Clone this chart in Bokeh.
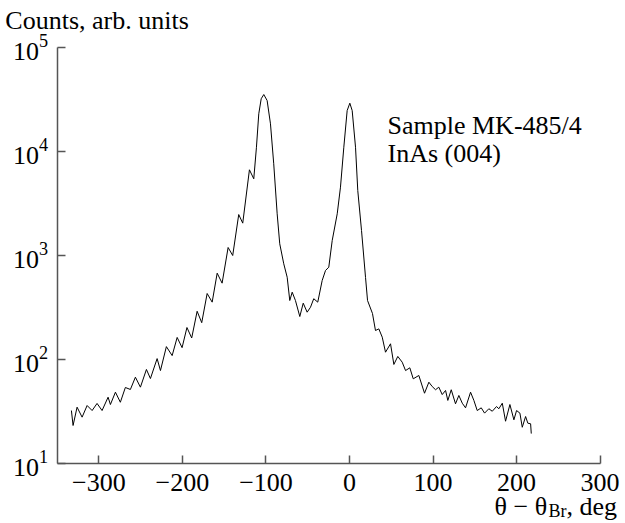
from bokeh.plotting import figure
from bokeh.models import Range1d, FixedTicker, LogTickFormatter, Label
from bokeh.embed import file_html
from bokeh.resources import INLINE

# Scan angle (theta - theta_Br, deg) and intensity (counts, arb. units)
angle = [
    -332.9, -330.9, -326.1, -320.1, -314.1, -308.1, -302.2, -296.2, -289.0, -286.2,
    -280.2, -274.3, -268.3, -262.3, -256.3, -250.3, -243.1, -238.3, -230.3, -226.3,
    -219.2, -212.3, -206.3, -200.4, -194.6, -188.9, -182.4, -176.9, -170.4, -164.4,
    -158.4, -152.5, -145.3, -139.8, -132.6, -127.8, -119.8, -114.6, -111.4, -108.6,
    -105.7, -102.6, -98.6, -94.6, -90.7, -86.6, -83.5, -78.7, -74.6, -71.5,
    -68.6, -64.7, -59.5, -55.4, -50.7, -46.7, -42.8, -38.0, -32.7, -28.7,
    -24.8, -20.7, -14.7, -10.8, -6.8, -2.8, 0.4, 3.2, 7.2, 9.9,
    14.4, 19.2, 21.6, 27.5, 31.1, 35.1, 39.2, 43.1, 49.1, 53.1,
    57.8, 63.1, 67.1, 72.2, 76.3, 83.0, 89.8, 95.0, 99.0, 103.0,
    106.9, 111.0, 115.0, 117.7, 121.8, 126.9, 130.9, 135.0, 138.9, 144.9,
    148.9, 152.9, 157.7, 161.7, 166.8, 170.9, 176.0, 178.8, 182.9, 186.8,
    192.0, 196.8, 200.0, 204.0, 206.8, 210.8, 213.5, 216.8, 217.6,
]
counts = [
    32.3, 23.2, 34.8, 27.9, 36.1, 32.3, 37.8, 32.3, 43.4, 36.9,
    48.5, 38.8, 53.8, 51.5, 67.6, 54.2, 80.2, 65.6, 102, 78.3,
    133, 109, 163, 130, 203, 161, 291, 226, 431, 356,
    676, 542, 1194, 1000, 2477, 2047, 6670, 5465, 10990, 23040,
    32140, 35300, 30900, 18450, 7620, 2518, 1296, 832, 618, 369,
    444, 369, 259, 348, 285, 318, 384, 356, 575, 718,
    772, 1393, 2518, 4540, 10990, 24770, 29140, 24770, 10990, 4217,
    1738, 614, 369, 277, 190, 197, 164, 117.5, 141.6, 89.6,
    107, 94.2, 78.3, 83.2, 65.2, 70.2, 47.4, 60.5, 55.0, 51.2,
    54.2, 46.0, 50.4, 40.4, 51.2, 37.5, 45.1, 38.0, 34.3, 48.5,
    40.4, 32.3, 34.3, 30.5, 33.6, 31.8, 35.3, 33.6, 38.0, 25.5,
    36.9, 26.3, 32.3, 30.5, 22.3, 28.3, 24.4, 24.1, 19.4,
]

x_ticks = [-300, -200, -100, 0, 100, 200, 300]
x_tick_labels = ["\u2212300", "\u2212200", "\u2212100", "0", "100", "200", "300"]
y_ticks = [10, 100, 1000, 10000, 100000]

FONT = "Liberation Serif"
FS = "26px"

# frame covers the whole canvas; axes are placed at fixed data locations
p = figure(width=625, height=523, title=None,
           x_range=Range1d(-417.78, 330.39), y_range=Range1d(2.649, 283100),
           y_axis_type="log", output_backend="svg", toolbar_location=None,
           min_border_left=0, min_border_right=0,
           min_border_top=0, min_border_bottom=0)

p.line(angle, counts, line_color="black", line_width=1)

p.outline_line_color = None
p.xgrid.visible = False
p.ygrid.visible = False
p.background_fill_color = "white"
p.border_fill_color = "white"

p.xaxis.ticker = FixedTicker(ticks=x_ticks, minor_ticks=[])
p.xaxis.major_label_overrides = {t: s for t, s in zip(x_ticks, x_tick_labels)}
p.xaxis.bounds = (-350, 300)
p.xaxis.fixed_location = 10
p.yaxis.ticker = FixedTicker(ticks=y_ticks, minor_ticks=[])
p.yaxis.formatter = LogTickFormatter()
p.yaxis.bounds = (10, 100000)
p.yaxis.fixed_location = -350

for ax in (p.xaxis, p.yaxis):
    ax.axis_line_color = "#555555"
    ax.axis_line_width = 1.5
    ax.major_tick_line_color = "#555555"
    ax.major_tick_line_width = 1.5
    ax.major_tick_in = 8
    ax.major_tick_out = 0
    ax.minor_tick_line_color = None
    ax.major_label_text_font = FONT
    ax.major_label_text_font_size = FS
    ax.major_label_text_color = "black"

p.xaxis.major_label_standoff = 10
p.yaxis.major_label_standoff = 9

def lab(x, y, text, size=FS):
    p.add_layout(Label(x=x, y=y, text=text, text_font=FONT, text_font_size=size,
                       text_color="black", text_baseline="alphabetic", text_align="left"))

lab(-412, 180000, "Counts, arb. units")
lab(45.5, 17800, "Sample MK-485/4")
lab(45.5, 9577, "InAs (004)")
lab(173.7, 3.86, "\u03b8 \u2212 \u03b8")
lab(238.2, 3.46, "Br", "18px")
lab(259.8, 3.86, ", deg")

open("out.html", "w").write(file_html(p, INLINE))
